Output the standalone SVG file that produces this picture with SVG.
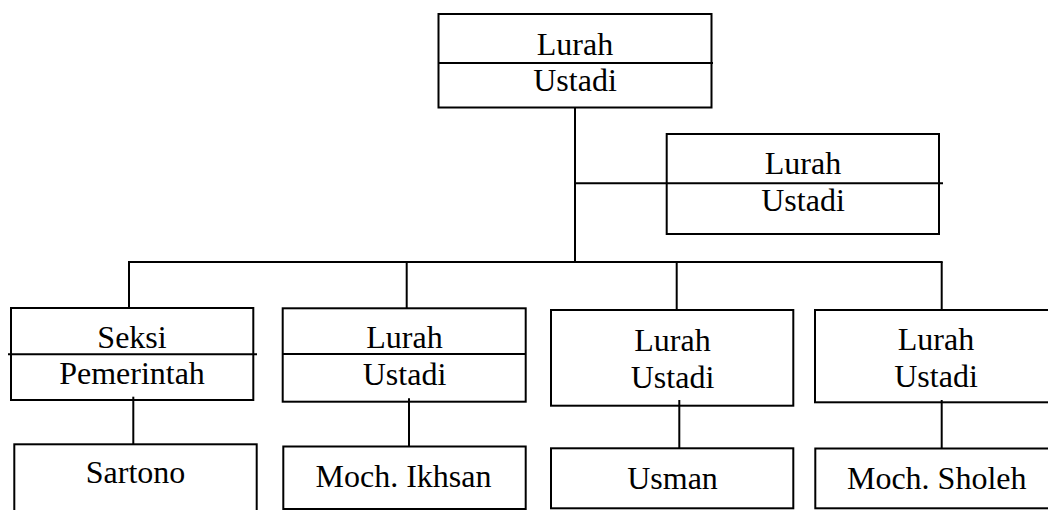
<svg xmlns="http://www.w3.org/2000/svg" width="1048" height="510" viewBox="0 0 1048 510">
<style>
.box{fill:none;stroke:#000;stroke-width:2}
.ln{stroke:#000;stroke-width:2;fill:none}
text{font-family:"Liberation Serif","Times New Roman",serif;font-size:32px;fill:#000;text-anchor:middle}
</style>
<rect width="1048" height="510" fill="#fff"/>
<g id="connectors">
<line class="ln" x1="575" y1="107.5" x2="575" y2="262"/>
<line class="ln" x1="575" y1="183.3" x2="666.7" y2="183.3"/>
<line class="ln" x1="128" y1="262" x2="942.7" y2="262"/>
<line class="ln" x1="129" y1="262" x2="129" y2="308"/>
<line class="ln" x1="406.7" y1="262" x2="406.7" y2="308.3"/>
<line class="ln" x1="676.7" y1="262" x2="676.7" y2="310"/>
<line class="ln" x1="941.7" y1="262" x2="941.7" y2="310"/>
<line class="ln" x1="133.3" y1="396.7" x2="133.3" y2="444.3"/>
<line class="ln" x1="409" y1="398.3" x2="409" y2="446.5"/>
<line class="ln" x1="679.3" y1="400" x2="679.3" y2="448.3"/>
<line class="ln" x1="941.7" y1="400" x2="941.7" y2="448.5"/>
</g>
<g id="n-top">
<rect class="box" x="438.5" y="14" width="273" height="93.5"/>
<line class="ln" x1="438.5" y1="63" x2="713" y2="63"/>
<text x="575" y="55">Lurah</text>
<text x="575" y="90.7">Ustadi</text>
</g>
<g id="n-side">
<rect class="box" x="666.7" y="134" width="272.3" height="100"/>
<line class="ln" x1="666.7" y1="183.3" x2="943" y2="183.3"/>
<text x="803" y="174">Lurah</text>
<text x="803" y="211">Ustadi</text>
</g>
<g id="n-seksi">
<rect class="box" x="11" y="308" width="242.3" height="92"/>
<line class="ln" x1="8" y1="354.3" x2="257" y2="354.3"/>
<text x="132" y="347.7">Seksi</text>
<text x="132" y="384.3">Pemerintah</text>
</g>
<g id="n-lurah2">
<rect class="box" x="282.7" y="308.3" width="243" height="93.4"/>
<line class="ln" x1="282.7" y1="354" x2="525.7" y2="354"/>
<text x="404.5" y="347.7">Lurah</text>
<text x="404.5" y="385">Ustadi</text>
</g>
<g id="n-lurah3">
<rect class="box" x="551" y="310" width="242.3" height="95.7"/>
<text x="672.5" y="350.7">Lurah</text>
<text x="672.5" y="387.7">Ustadi</text>
</g>
<g id="n-lurah4">
<rect class="box" x="815" y="310" width="245" height="92.3"/>
<text x="936" y="350">Lurah</text>
<text x="936" y="386.7">Ustadi</text>
</g>
<g id="n-sartono">
<rect class="box" x="14.3" y="444.3" width="242.4" height="80"/>
<text x="135.5" y="483.3">Sartono</text>
</g>
<g id="n-ikhsan">
<rect class="box" x="283.3" y="446.5" width="242.4" height="62.5"/>
<text x="403.5" y="486.7">Moch. Ikhsan</text>
</g>
<g id="n-usman">
<rect class="box" x="551" y="448.3" width="242.3" height="60"/>
<text x="672.5" y="489.3">Usman</text>
</g>
<g id="n-sholeh">
<rect class="box" x="815.3" y="448.5" width="245" height="59.8"/>
<text x="936.7" y="489.3">Moch. Sholeh</text>
</g>
</svg>
